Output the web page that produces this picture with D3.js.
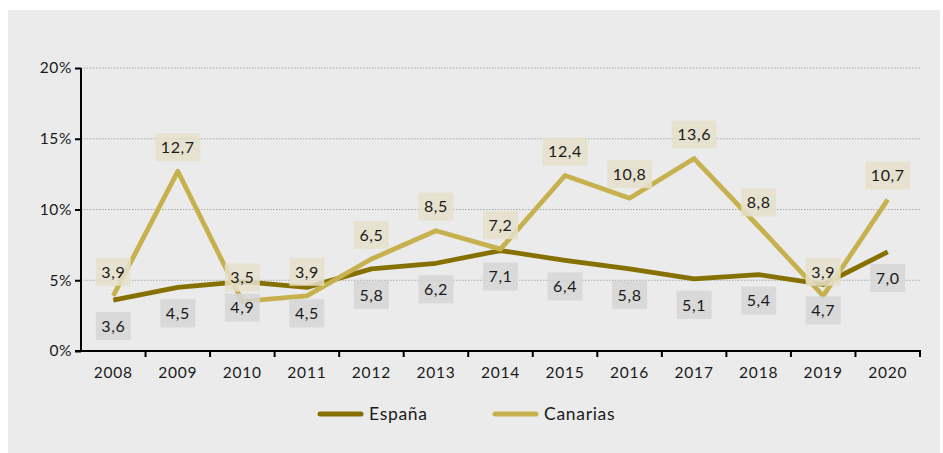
<!DOCTYPE html>
<html><head><meta charset="utf-8">
<script src="https://cdn.jsdelivr.net/npm/d3@7"></script>
<style>
html,body{margin:0;padding:0;background:#fff;}
text{font-family:Lato,"Noto Sans",sans-serif;}
</style></head>
<body>
<svg id="chart" width="943" height="453"></svg>
<script>
const years = ["2008","2009","2010","2011","2012","2013","2014","2015","2016","2017","2018","2019","2020"];
const espana = [3.6,4.5,4.9,4.5,5.8,6.2,7.1,6.4,5.8,5.1,5.4,4.7,7.0];
const canarias = [3.9,12.7,3.5,3.9,6.5,8.5,7.2,12.4,10.8,13.6,8.8,3.9,10.7];
const yTicks = [0,5,10,15,20];
const seriesNames = ["España","Canarias"];
const seriesColors = ["#857000","#c6b14e"];

(function(){
const svg = d3.select("#chart");
svg.append("rect").attr("x",8).attr("y",10).attr("width",932).attr("height",443).attr("fill","#ebebeb");

const pL=81,pR=920,pT=68,pB=351;
const x = d3.scaleBand().domain(years).range([pL,pR]);
const y = d3.scaleLinear().domain([0,20]).range([pB,pT]);
const cx = d => x(d)+x.bandwidth()/2;

// grid
svg.append("g").selectAll("line").data(yTicks.filter(t=>t>0)).join("line")
  .attr("x1",pL).attr("x2",pR).attr("y1",d=>y(d)).attr("y2",d=>y(d))
  .attr("stroke","#a8a8a8").attr("stroke-width",1).attr("stroke-dasharray","1.5,1.5");

// y axis
const ya = svg.append("g").attr("transform",`translate(${pL},0)`)
  .call(d3.axisLeft(y).tickValues(yTicks).tickFormat(d=>d+"%").tickSize(6).tickPadding(3));
ya.select(".domain").attr("stroke","#000").attr("stroke-width",2).attr("d",`M0,${pT}V${pB}`);
ya.selectAll(".tick line").attr("stroke","#000").attr("stroke-width",2);
ya.selectAll(".tick text").attr("font-size",15.5).attr("letter-spacing",0.6).attr("fill","#1a1a1a").attr("font-family","Lato,sans-serif");

// x axis
const xa = svg.append("g").attr("transform",`translate(0,${pB})`);
xa.append("line").attr("x1",pL-6).attr("x2",pR+1).attr("y1",0).attr("y2",0).attr("stroke","#000").attr("stroke-width",2);
const bounds = years.map(d=>x(d)).slice(1).concat([pR]);
xa.selectAll(".tk").data(bounds).join("line").attr("class","tk")
  .attr("x1",d=>d).attr("x2",d=>d).attr("y1",0).attr("y2",6).attr("stroke","#000").attr("stroke-width",2);
xa.selectAll(".lb").data(years).join("text").attr("class","lb")
  .attr("x",d=>cx(d)).attr("y",27).attr("text-anchor","middle").attr("font-size",15.5).attr("letter-spacing",0.8)
  .attr("fill","#1a1a1a").text(d=>d);

// lines
const line = d3.line().x((d,i)=>cx(years[i])).y(d=>y(d));
[espana,canarias].forEach((s,k)=>{
  svg.append("path").datum(s).attr("d",line).attr("fill","none")
    .attr("stroke",seriesColors[k]).attr("stroke-width",4.8).attr("stroke-linejoin","round");
});

// labels
const fmt = v => d3.format(".1f")(v).replace(".",",");
function labels(s, off, fill){
  const g = svg.append("g");
  s.forEach((v,i)=>{
    const t = fmt(v);
    const gx = cx(years[i]), gy = y(v)+off;
    const grp = g.append("g");
    const txt = grp.append("text").attr("x",gx).attr("y",gy).attr("dy","0.36em")
      .attr("text-anchor","middle").attr("font-size",16).attr("letter-spacing",0.6).attr("fill","#1a1a1a").text(t);
    const w = txt.node().getComputedTextLength();
    grp.insert("rect","text").attr("x",gx-w/2-5.5).attr("y",gy-14).attr("width",w+11).attr("height",28)
      .attr("fill",fill).attr("opacity",0.85);
  });
}
labels(espana, 26, "#d6d6d6");
labels(canarias, -24, "#e6e1cb");

// legend
const lg = svg.append("g");
const lx = [318,493];
seriesNames.forEach((n,k)=>{
  lg.append("line").attr("x1",lx[k]+2).attr("x2",lx[k]+43).attr("y1",414).attr("y2",414)
    .attr("stroke",seriesColors[k]).attr("stroke-width",5).attr("stroke-linecap","round");
  lg.append("text").attr("x",lx[k]+51).attr("y",414).attr("dy","0.36em").attr("font-size",17.5).attr("letter-spacing",0.7).attr("fill","#1a1a1a").text(n);
});
})();
</script>
</body></html>
